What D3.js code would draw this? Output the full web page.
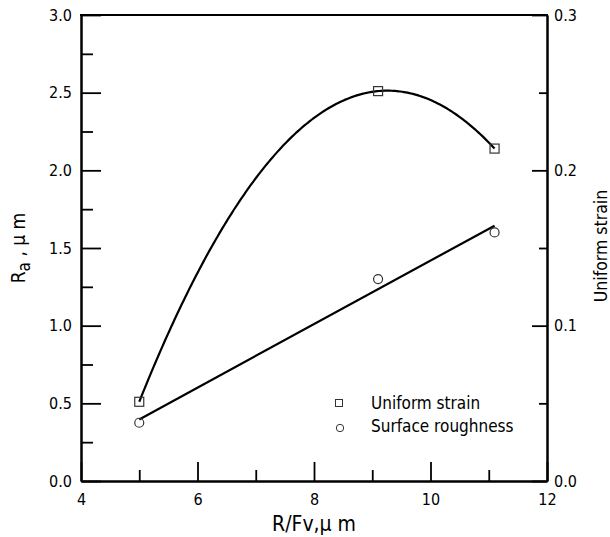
<!DOCTYPE html>
<html>
<head>
<meta charset="utf-8">
<script src="https://cdn.jsdelivr.net/npm/d3@7"></script>
<style>
  html, body { margin: 0; padding: 0; background: #fff; }
  svg { display: block; }
  text { font-family: "DejaVu Sans", Verdana, sans-serif; font-stretch: condensed; fill: #000; }
</style>
</head>
<body>
<script>
// Feed-to-radius ratio R/Fv (µm)
const rfv = [5.0, 9.1, 11.1];
// Uniform strain (right axis)
const uniformStrain = [0.051, 0.251, 0.214];
// Surface roughness Ra (µm, left axis)
const surfaceRoughness = [0.375, 1.30, 1.60];

// Axis ticks
const xMajorTicks = [4, 6, 8, 10, 12];
const xMinorTicks = [5, 7, 9, 11];
const raMajorTicks = [0.0, 0.5, 1.0, 1.5, 2.0, 2.5, 3.0];
const raMinorTicks = [0.25, 0.75, 1.25, 1.75, 2.25, 2.75];
const strainMajorTicks = [0.0, 0.1, 0.2, 0.3];
const strainMinorTicks = [0.05, 0.15, 0.25];

const legendItems = ["Uniform strain", "Surface roughness"];

const W = 610, H = 537;
const plotLeft = 81, plotRight = 547, plotTop = 15, plotBottom = 481;
const tickFont = 16;

const svg = d3.select("body").append("svg").attr("width", W).attr("height", H);

const x = d3.scaleLinear().domain([4, 12]).range([plotLeft, plotRight]);
const yL = d3.scaleLinear().domain([0, 3]).range([plotBottom, plotTop]);
const yR = d3.scaleLinear().domain([0, 0.3]).range([plotBottom, plotTop]);

// Least-squares polynomial fit (normal equations + Gaussian elimination)
function polyFit(xs, ys, deg) {
  const n = deg + 1;
  const A = Array.from({length: n}, () => new Array(n + 1).fill(0));
  for (let r = 0; r < n; r++) {
    for (let c = 0; c < n; c++) A[r][c] = d3.sum(xs, v => Math.pow(v, r + c));
    A[r][n] = d3.sum(xs, (v, i) => ys[i] * Math.pow(v, r));
  }
  for (let i = 0; i < n; i++) {
    let p = i;
    for (let k = i + 1; k < n; k++) if (Math.abs(A[k][i]) > Math.abs(A[p][i])) p = k;
    [A[i], A[p]] = [A[p], A[i]];
    for (let k = i + 1; k < n; k++) {
      const f = A[k][i] / A[i][i];
      for (let j = i; j <= n; j++) A[k][j] -= f * A[i][j];
    }
  }
  const coef = new Array(n).fill(0);
  for (let i = n - 1; i >= 0; i--) {
    let s = A[i][n];
    for (let j = i + 1; j < n; j++) s -= A[i][j] * coef[j];
    coef[i] = s / A[i][i];
  }
  return v => coef.reduce((acc, c, i) => acc + c * Math.pow(v, i), 0);
}

const strainFit = polyFit(rfv, uniformStrain, 2);
const roughFit = polyFit(rfv, surfaceRoughness, 1);
const x0 = d3.min(rfv), x1 = d3.max(rfv);
const samples = d3.range(0, 201).map(i => x0 + (x1 - x0) * i / 200);

function styleAxis(g) {
  g.selectAll(".domain").attr("stroke", "#000").attr("stroke-width", 2);
  g.selectAll(".tick line").attr("stroke", "#000").attr("stroke-width", 1.8);
  g.selectAll(".tick text")
    .attr("font-family", null)
    .attr("font-size", tickFont).attr("fill", "#000");
  g.attr("font-family", null).attr("font-size", null);
}

// Bottom axis
svg.append("g").attr("transform", `translate(0,${plotBottom})`)
  .call(d3.axisBottom(x).tickValues(xMinorTicks).tickSizeInner(-11).tickSizeOuter(0).tickFormat(""))
  .call(styleAxis);
svg.append("g").attr("transform", `translate(0,${plotBottom})`)
  .call(d3.axisBottom(x).tickValues(xMajorTicks).tickSizeInner(-19).tickSizeOuter(0).tickPadding(13).tickFormat(d3.format("d")))
  .call(styleAxis);

// Left axis (Ra)
svg.append("g").attr("transform", `translate(${plotLeft},0)`)
  .call(d3.axisLeft(yL).tickValues(raMinorTicks).tickSizeInner(-12).tickSizeOuter(0).tickFormat(""))
  .call(styleAxis);
svg.append("g").attr("transform", `translate(${plotLeft},0)`)
  .call(d3.axisLeft(yL).tickValues(raMajorTicks).tickSizeInner(-20).tickSizeOuter(0).tickPadding(9).tickFormat(d3.format(".1f")))
  .call(styleAxis);

// Right axis (strain)
svg.append("g").attr("transform", `translate(${plotRight},0)`)
  .call(d3.axisRight(yR).tickValues(strainMinorTicks).tickSizeInner(-8).tickSizeOuter(0).tickFormat(""))
  .call(styleAxis);
svg.append("g").attr("transform", `translate(${plotRight},0)`)
  .call(d3.axisRight(yR).tickValues(strainMajorTicks).tickSizeInner(-15).tickSizeOuter(0).tickPadding(7).tickFormat(d3.format(".1f")))
  .call(styleAxis);

// Top frame line
svg.append("line").attr("x1", plotLeft - 1).attr("x2", plotRight + 1).attr("y1", plotTop).attr("y2", plotTop)
  .attr("stroke", "#000").attr("stroke-width", 2);

// Fitted curves
svg.append("path")
  .datum(samples)
  .attr("d", d3.line().x(d => x(d)).y(d => yR(strainFit(d))))
  .attr("fill", "none").attr("stroke", "#000").attr("stroke-width", 2.2);

svg.append("path")
  .datum([x0, x1])
  .attr("d", d3.line().x(d => x(d)).y(d => yL(roughFit(d))))
  .attr("fill", "none").attr("stroke", "#000").attr("stroke-width", 2.2);

// Markers
const sq = 9;
svg.append("g").selectAll("rect").data(rfv).join("rect")
  .attr("x", (d) => x(d) - sq / 2)
  .attr("y", (d, i) => yR(uniformStrain[i]) - sq / 2)
  .attr("width", sq).attr("height", sq)
  .attr("fill", "none").attr("stroke", "#333").attr("stroke-width", 1.2);

svg.append("g").selectAll("circle").data(rfv).join("circle")
  .attr("cx", d => x(d))
  .attr("cy", (d, i) => yL(surfaceRoughness[i]))
  .attr("r", 4.5)
  .attr("fill", "none").attr("stroke", "#333").attr("stroke-width", 1.2);

// Legend
const lg = svg.append("g");
lg.append("rect").attr("x", 335.5).attr("y", 399.5).attr("width", 7).attr("height", 7)
  .attr("fill", "none").attr("stroke", "#333").attr("stroke-width", 1);
lg.append("circle").attr("cx", 340).attr("cy", 428).attr("r", 3.7)
  .attr("fill", "none").attr("stroke", "#333").attr("stroke-width", 1);
lg.selectAll("text").data(legendItems).join("text")
  .attr("x", 371).attr("y", (d, i) => 409 + i * 23)
  .attr("font-size", 17).text(d => d);

// Axis titles
svg.append("text").attr("x", 314).attr("y", 531).attr("text-anchor", "middle")
  .attr("font-size", 21).text("R/Fv,\u03bc m");

const yt = svg.append("text").attr("transform", "translate(25,248) rotate(-90)")
  .attr("text-anchor", "middle").attr("font-size", 19);
yt.append("tspan").text("R");
yt.append("tspan").attr("dy", 5).attr("font-size", 17).text("a");
yt.append("tspan").attr("dy", -5).text(" , \u03bc m");

svg.append("text").attr("transform", "translate(607,246) rotate(-90)")
  .attr("text-anchor", "middle").attr("font-size", 17.5).text("Uniform strain");
</script>
</body>
</html>
